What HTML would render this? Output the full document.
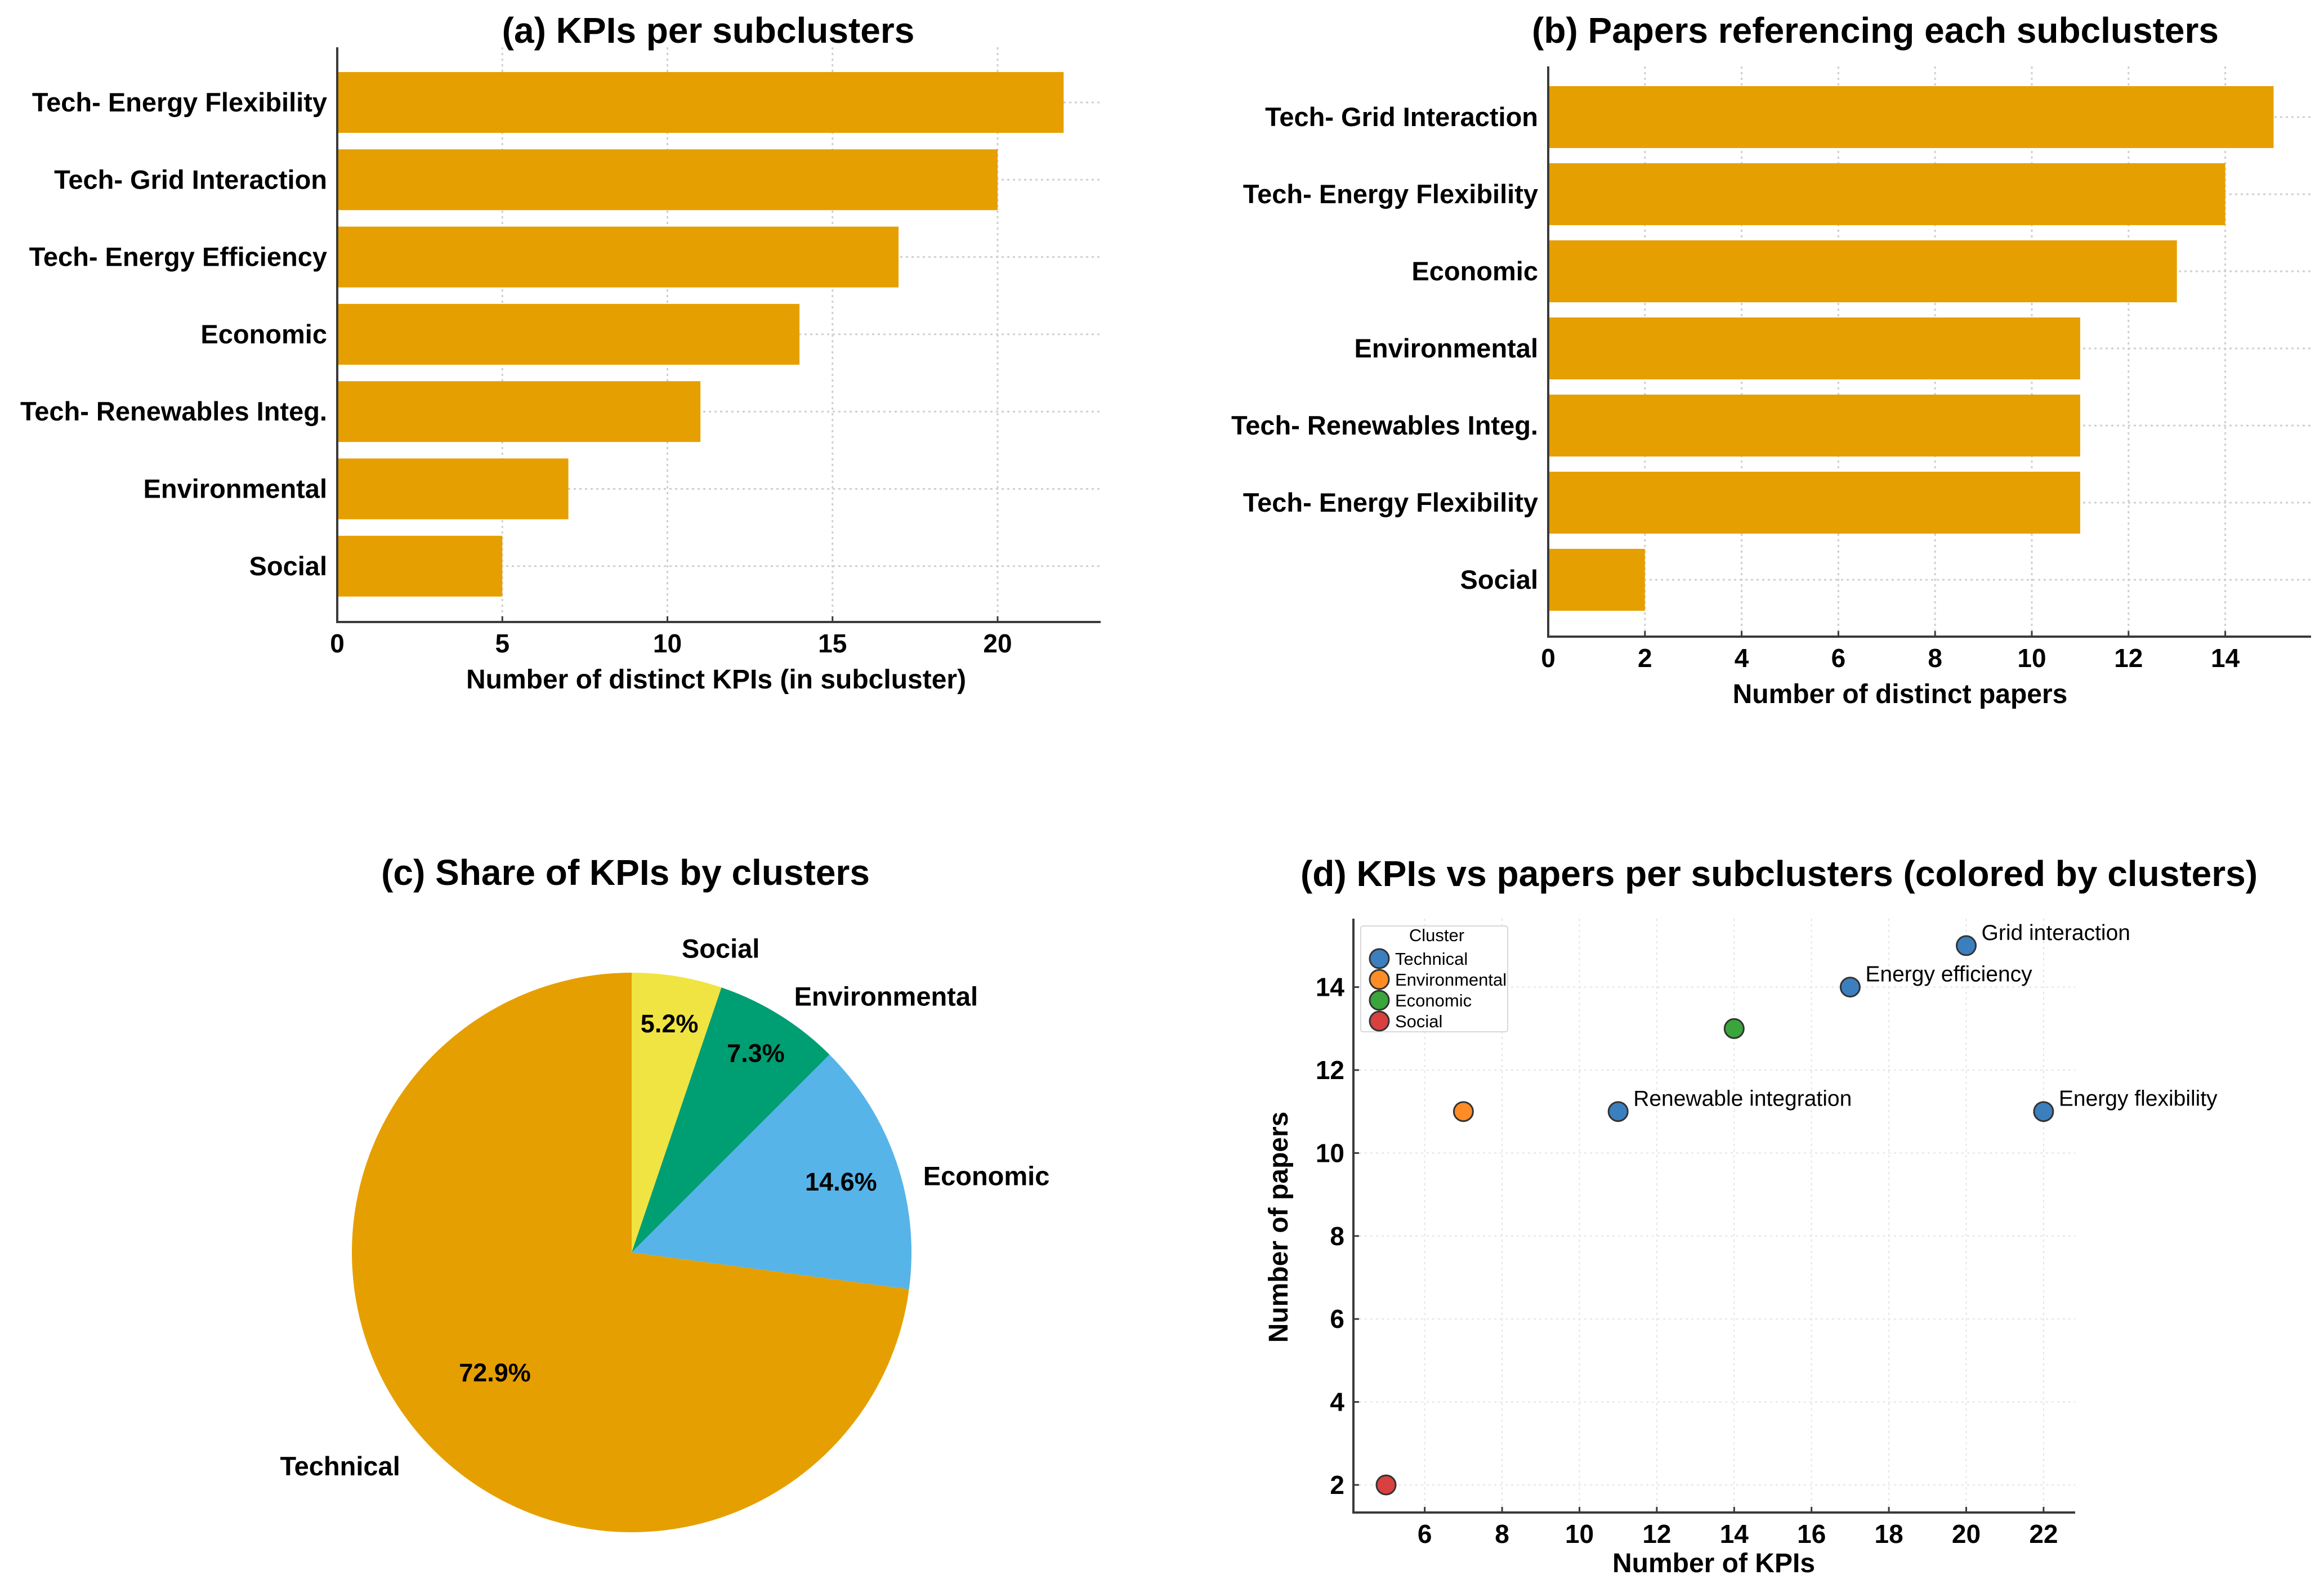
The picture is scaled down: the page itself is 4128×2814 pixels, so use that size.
<!DOCTYPE html>
<html><head><meta charset="utf-8"><style>
html,body{margin:0;padding:0;background:#fff}
svg{display:block}
text{font-family:"Liberation Sans",Arial,sans-serif}
</style></head><body>
<svg id="fig" width="4128" height="2814" viewBox="0 0 4128 2814" xmlns="http://www.w3.org/2000/svg">
<rect width="4128" height="2814" fill="#fff"/>
<g id="pa"></g>
<g id="pb"></g>
<g id="pc"></g>
<g id="pd"></g>
</svg>
<script>
// Panel (a) data
const aCategories = ["Tech- Energy Flexibility","Tech- Grid Interaction","Tech- Energy Efficiency","Economic","Tech- Renewables Integ.","Environmental","Social"];
const aValues = [22,20,17,14,11,7,5];
const aTicks = [0,5,10,15,20];
// Panel (b) data
const bCategories = ["Tech- Grid Interaction","Tech- Energy Flexibility","Economic","Environmental","Tech- Renewables Integ.","Tech- Energy Flexibility","Social"];
const bValues = [15,14,13,11,11,11,2];
const bTicks = [0,2,4,6,8,10,12,14];
// Panel (c) data
const pieLabels = ["Social","Environmental","Economic","Technical"];
const pieShares = [5.2,7.3,14.6,72.9];
// Panel (d) data
const dNames = ["Energy flexibility","Grid interaction","Energy efficiency","Renewable integration","","",""];
const dKpis = [22,20,17,11,7,14,5];
const dPapers = [11,15,14,11,11,13,2];
const dClusters = ["Technical","Technical","Technical","Technical","Environmental","Economic","Social"];
const dXTicks = [6,8,10,12,14,16,18,20,22];
const dYTicks = [2,4,6,8,10,12,14];
const legendEntries = ["Technical","Environmental","Economic","Social"];

const NS="http://www.w3.org/2000/svg";
function mk(parent,tag,attrs,txt){const e=document.createElementNS(NS,tag);for(const k in attrs)e.setAttribute(k,attrs[k]);if(txt!==undefined)e.textContent=txt;parent.appendChild(e);return e;}
const BAR="#E69F00", AX="#3a3a3a", GRID="#cfcfcf";

function barPanel(g,cats,vals,ticks,cfg){
  const x=v=>cfg.x0+v*cfg.unit;
  const y=i=>cfg.c0+i*cfg.step;
  ticks.forEach(t=>{
    const gl=mk(g,'line',{x1:x(t),x2:x(t),y1:cfg.top,y2:cfg.bottom,stroke:GRID,'stroke-width':3,'stroke-dasharray':'4 6'});
    
    
    const tl=mk(g,'text',{x:x(t),y:cfg.bottom+54,'font-size':46,'font-weight':'bold','text-anchor':'middle'},String(t));
    
    
    mk(g,'line',{x1:x(t),x2:x(t),y1:cfg.bottom,y2:cfg.bottom-10,stroke:AX,'stroke-width':3});
  });
  cats.forEach((c,i)=>{
    const gl=mk(g,'line',{x1:cfg.x0,x2:cfg.right,y1:y(i),y2:y(i),stroke:GRID,'stroke-width':3,'stroke-dasharray':'4 6'});
    
    
  });
  cats.forEach((c,i)=>{
    const r=mk(g,'rect',{x:cfg.x0,y:y(i)-cfg.h/2,width:vals[i]*cfg.unit,height:cfg.h,fill:BAR});
    
    
    const t=mk(g,'text',{x:cfg.x0-18,y:y(i)+16,'font-size':47,'font-weight':'bold','text-anchor':'end'},c);
    
    
  });
  const ax=mk(g,'path',{d:`M${cfg.x0} ${cfg.top}V${cfg.bottom}H${cfg.right}`,fill:'none',stroke:AX,'stroke-width':4});
  
  
  const xl=mk(g,'text',{x:cfg.xlx,y:cfg.bottom+118,'font-size':48,'font-weight':'bold','text-anchor':'middle'},cfg.xlabel);
  
  
  const ti=mk(g,'text',{x:cfg.tx,y:76,'font-size':64,'font-weight':'bold','text-anchor':'middle'},cfg.title);
  
  
}
barPanel(document.getElementById('pa'),aCategories,aValues,aTicks,{x0:599,unit:58.65,c0:182,step:137.3,h:108,top:84,bottom:1105,right:1955,xlabel:"Number of distinct KPIs (in subcluster)",xlx:1272,title:"(a) KPIs per subclusters",tx:1258});
barPanel(document.getElementById('pb'),bCategories,bValues,bTicks,{x0:2750,unit:85.9,c0:208,step:137,h:110,top:118,bottom:1131,right:4105,xlabel:"Number of distinct papers",xlx:3375,title:"(b) Papers referencing each subclusters",tx:3331});

// Pie
(function(){
  const g=document.getElementById('pc');
  const cx=1122,cy=2225,R=497;
  const cols={"Social":"#F0E442","Environmental":"#009E73","Economic":"#56B4E9","Technical":"#E69F00"};
  const pctDist={"Social":0.83,"Environmental":0.84,"Economic":0.79,"Technical":0.65};
  const labDy={"Social":0,"Environmental":10,"Economic":40,"Technical":20};
  const total=pieShares.reduce((a,b)=>a+b,0);
  let a0=0;
  const pt=(ang,r)=>[cx+r*Math.sin(ang),cy-r*Math.cos(ang)];
  pieLabels.forEach((lab,i)=>{
    const frac=pieShares[i]/total, a1=a0+frac*2*Math.PI;
    const p0=pt(a0,R),p1=pt(a1,R);
    const s=mk(g,'path',{d:`M${cx} ${cy}L${p0[0]} ${p0[1]}A${R} ${R} 0 ${frac>0.5?1:0} 1 ${p1[0]} ${p1[1]}Z`,fill:cols[lab]});
    
    
    const mid=(a0+a1)/2;
    const lp=pt(mid,R*1.1);
    const anchor=Math.sin(mid)>0.05?'start':(Math.sin(mid)<-0.05?'end':'middle');
    const t=mk(g,'text',{x:lp[0],y:lp[1]+16+(labDy[lab]||0),'font-size':47,'font-weight':'bold','text-anchor':anchor},lab);
    
    
    const pp=pt(mid,R*(pctDist[lab]||0.6));
    const tp=mk(g,'text',{x:pp[0],y:pp[1]+16,'font-size':45,'font-weight':'bold','text-anchor':'middle'},pieShares[i].toFixed(1)+'%');
    
    
    a0=a1;
  });
  const ti=mk(g,'text',{x:1111,y:1572,'font-size':64,'font-weight':'bold','text-anchor':'middle'},"(c) Share of KPIs by clusters");
  
  
})();

// Scatter
(function(){
  const g=document.getElementById('pd');
  const x=v=>2462+(v-5)*68.7, y=v=>2638-(v-2)*73.7;
  const L=2404,B=2687,T=1632,Rr=3686;
  const cols={"Technical":"#3b7fbf","Environmental":"#ff8c24","Economic":"#3aa53a","Social":"#d94040"};
  dXTicks.forEach(t=>{
    const gl=mk(g,'line',{x1:x(t),x2:x(t),y1:T,y2:B,stroke:'#e4e4e4','stroke-width':2,'stroke-dasharray':'4 6'});
    
    
    mk(g,'line',{x1:x(t),x2:x(t),y1:B,y2:B-10,stroke:AX,'stroke-width':3});
    const tl=mk(g,'text',{x:x(t),y:B+54,'font-size':46,'font-weight':'bold','text-anchor':'middle'},String(t));
    
    
  });
  dYTicks.forEach(t=>{
    const gl=mk(g,'line',{x1:L,x2:Rr,y1:y(t),y2:y(t),stroke:'#e4e4e4','stroke-width':2,'stroke-dasharray':'4 6'});
    
    
    mk(g,'line',{x1:L,x2:L+10,y1:y(t),y2:y(t),stroke:AX,'stroke-width':3});
    const tl=mk(g,'text',{x:L-16,y:y(t)+16,'font-size':46,'font-weight':'bold','text-anchor':'end'},String(t));
    
    
  });
  const ax=mk(g,'path',{d:`M${L} ${T}V${B}H${Rr}`,fill:'none',stroke:AX,'stroke-width':4});
  
  
  dKpis.forEach((k,i)=>{
    const c=mk(g,'circle',{cx:x(k),cy:y(dPapers[i]),r:17,fill:cols[dClusters[i]],stroke:'#333','stroke-width':3});
    
    
    if(dNames[i]){
      const t=mk(g,'text',{x:x(k)+27,y:y(dPapers[i])-10,'font-size':39},dNames[i]);
      
      
    }
  });
  const lg=mk(g,'g',{});
  
  
  mk(lg,'rect',{x:2417,y:1645,width:261,height:188,fill:'#fff',stroke:'#d8d8d8','stroke-width':2,rx:4});
  mk(lg,'text',{x:2552,y:1672,'font-size':31,'text-anchor':'middle'},"Cluster");
  legendEntries.forEach((e,i)=>{
    const it=mk(lg,'g',{});
    
    
    mk(it,'circle',{cx:2450,cy:1703+i*37,r:17,fill:cols[e],stroke:'#333','stroke-width':3});
    mk(it,'text',{x:2478,y:1714+i*37,'font-size':31},e);
  });
  const xl=mk(g,'text',{x:3044,y:2793,'font-size':48,'font-weight':'bold','text-anchor':'middle'},"Number of KPIs");
  
  
  const yl=mk(g,'text',{x:0,y:0,'font-size':48,'font-weight':'bold','text-anchor':'middle',transform:'translate(2287,2180) rotate(-90)'},"Number of papers");
  
  
  const ti=mk(g,'text',{x:3160,y:1574,'font-size':64,'font-weight':'bold','text-anchor':'middle'},"(d) KPIs vs papers per subclusters (colored by clusters)");
  
  
})();
</script>
</body></html>
